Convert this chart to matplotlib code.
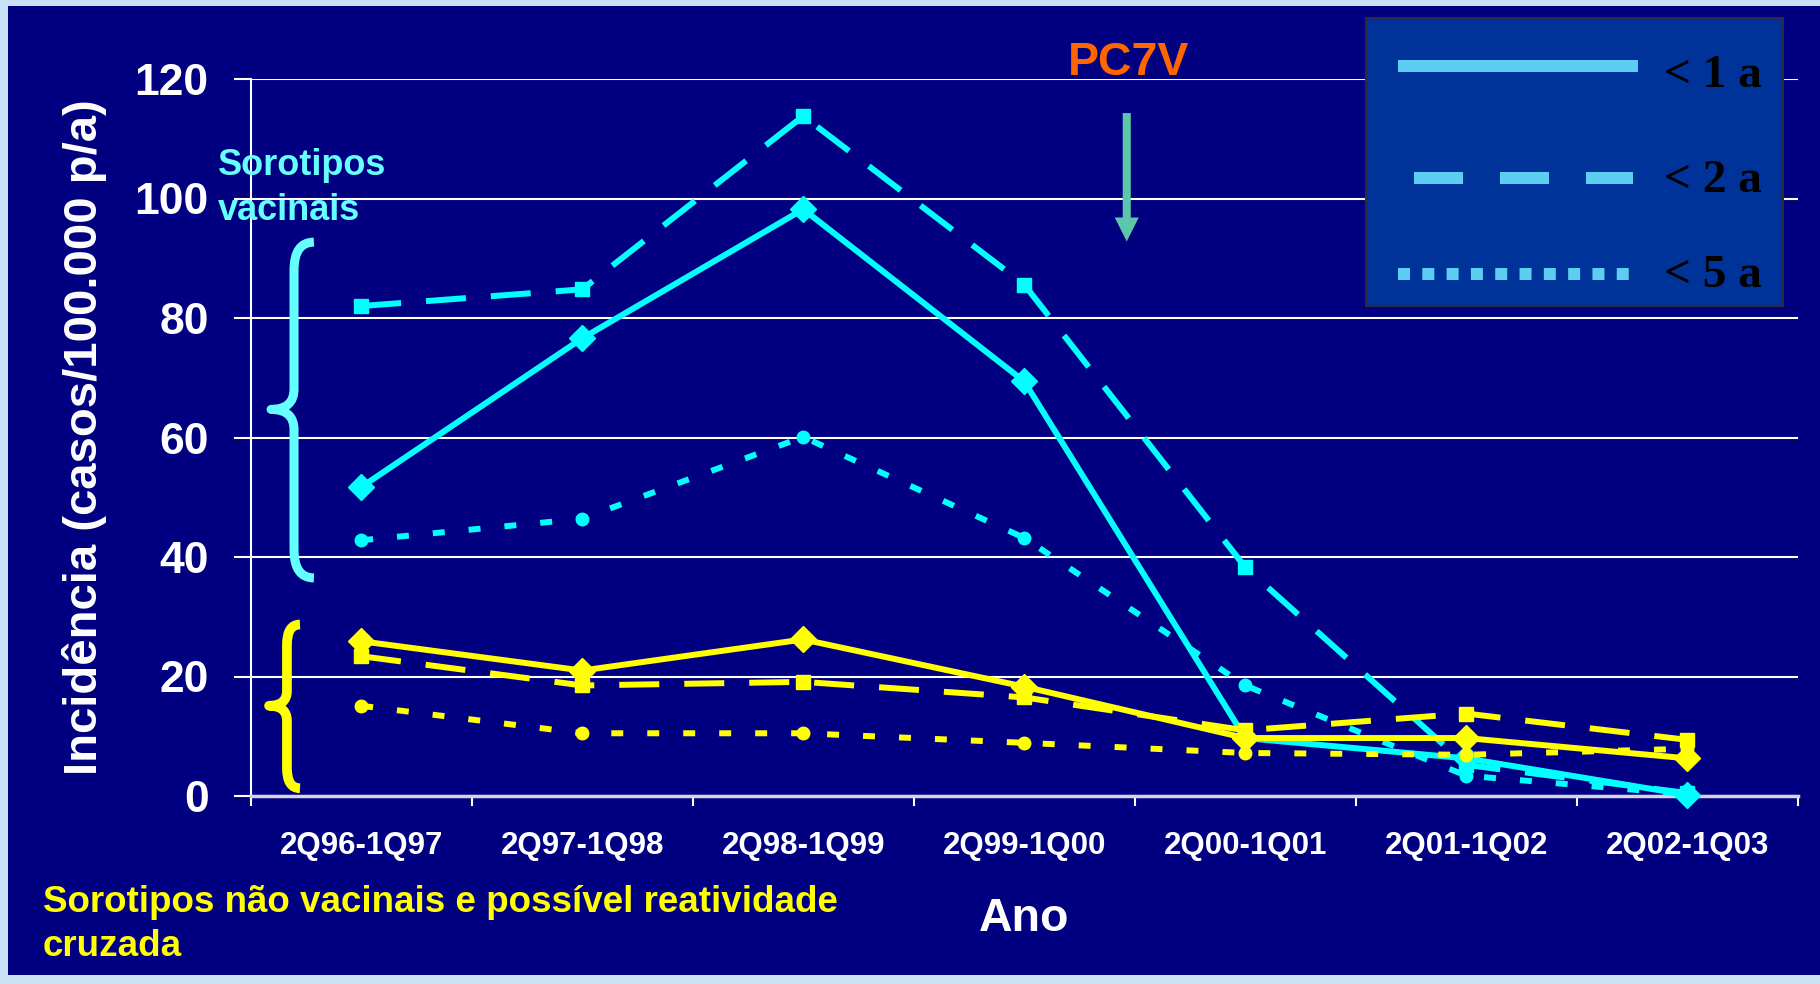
import numpy as np
import matplotlib
matplotlib.use("Agg")
import matplotlib.pyplot as plt
from matplotlib.patches import Rectangle, PathPatch, ArrowStyle
from matplotlib.path import Path

# ---- data -------------------------------------------------------------
categories = ['2Q96-1Q97', '2Q97-1Q98', '2Q98-1Q99', '2Q99-1Q00',
              '2Q00-1Q01', '2Q01-1Q02', '2Q02-1Q03']

# vaccine serotypes (cyan)
vac_lt1 = [51.7, 76.6, 98.2, 69.4, 9.7, 6.3, 0.2]
vac_lt2 = [82.0, 84.8, 113.8, 85.6, 38.3, 5.2, 0.5]
vac_lt5 = [42.8, 46.4, 60.1, 43.2, 18.5, 3.4, 0.3]

# non-vaccine serotypes (yellow)
nvac_lt1 = [25.9, 21.0, 26.2, 18.3, 9.7, 9.7, 6.3]
nvac_lt2 = [23.4, 18.5, 19.1, 16.5, 11.0, 13.8, 9.4]
nvac_lt5 = [15.1, 10.5, 10.5, 8.9, 7.2, 6.9, 7.9]

legend_labels = ['< 1 a', '< 2 a', '< 5 a']
y_ticks = [0, 20, 40, 60, 80, 100, 120]

# ---- style ------------------------------------------------------------
plt.rcParams['font.family'] = ['Liberation Sans', 'DejaVu Sans']
plt.rcParams['font.weight'] = 'bold'
plt.rcParams['axes.labelweight'] = 'bold'
plt.rcParams['lines.scale_dashes'] = False

NAVY = '#000080'
CYAN = '#00FFFF'
YELLOW = '#FFFF00'
LIGHT_CYAN = '#66FFFF'
LEG_LINE = '#5ECDF2'

W, H = 1820, 984
fig = plt.figure(figsize=(W / 100, H / 100), dpi=100)
fig.patch.set_facecolor('#c9e1f5')
fig.add_artist(Rectangle((8 / W, 9 / H), 1 - 8 / W, (H - 6 - 9) / H,
                         transform=fig.transFigure, fc=NAVY, ec='none',
                         zorder=-5))

x0, x1, y_top, y_bot = 250.7, 1797.7, 79, 796
ax = fig.add_axes([x0 / W, 1 - y_bot / H, (x1 - x0) / W, (y_bot - y_top) / H])
ax.set_facecolor('none')
ax.set_xlim(0, len(categories))
ax.set_ylim(0, 120)

xc = np.arange(len(categories)) + 0.5

solid = dict(linestyle='-')
dashed = dict(linestyle=(0, (28.8, 18)))
dotted = dict(linestyle=(0, (8.6, 17.3)))

def series(vals, color, style, marker, ms):
    ax.plot(xc, vals, color=color, lw=4.3, marker=marker, ms=ms,
            mec=color, mfc=color, clip_on=False, zorder=3, **style)

series(vac_lt2, CYAN, dashed, 's', 10)
series(vac_lt5, CYAN, dotted, 'o', 9)
series(vac_lt1, CYAN, solid, 'D', 13.5)
series(nvac_lt2, YELLOW, dashed, 's', 10)
series(nvac_lt5, YELLOW, dotted, 'o', 9)
series(nvac_lt1, YELLOW, solid, 'D', 13.5)

# axes, ticks and grid
ax.set_axisbelow(True)
ax.grid(axis='y', color='white', lw=1.5)
for s in ('top', 'right'):
    ax.spines[s].set_visible(False)
ax.spines['left'].set_color('white')
ax.spines['left'].set_linewidth(1.5)
ax.spines['bottom'].set_color('#d4d4e4')
ax.spines['bottom'].set_linewidth(2.5)

ax.set_yticks(y_ticks)
ax.tick_params(axis='y', direction='out', length=12.2, width=1.5,
               color='white', pad=18, labelsize=32, labelcolor='white')
ax.set_xticks(range(len(categories) + 1))
ax.set_xticklabels([])
ax.set_xticks(xc, minor=True)
ax.set_xticklabels(categories, minor=True)
ax.tick_params(axis='x', which='major', direction='out', length=7,
               width=1.5, color='white')
ax.tick_params(axis='x', which='minor', length=0, pad=25,
               labelsize=22.5, labelcolor='white')

ax.set_ylabel('Incidência (casos/100.000 p/a)', fontsize=34,
              color='white', fontweight='bold', labelpad=20)
ax.set_xlabel('Ano', fontsize=33.5, color='white', fontweight='bold',
              labelpad=26)

# curly braces grouping the two families of curves
def brace(x_tip, x_stem, x_end, y_bot_, y_mid, y_top_, r_end, r_mid,
          color, lw):
    verts = [(x_end, y_top_),
             (x_stem, y_top_), (x_stem, y_top_ - r_end),
             (x_stem, y_mid + r_mid),
             (x_stem, y_mid), (x_tip, y_mid),
             (x_stem, y_mid), (x_stem, y_mid - r_mid),
             (x_stem, y_bot_ + r_end),
             (x_stem, y_bot_), (x_end, y_bot_)]
    codes = [Path.MOVETO,
             Path.CURVE3, Path.CURVE3,
             Path.LINETO,
             Path.CURVE3, Path.CURVE3,
             Path.CURVE3, Path.CURVE3,
             Path.LINETO,
             Path.CURVE3, Path.CURVE3]
    ax.add_patch(PathPatch(Path(verts, codes), fc='none', ec=color, lw=lw,
                           capstyle='butt', joinstyle='round',
                           clip_on=False, zorder=4))

brace(0.092, 0.196, 0.286, 36.5, 64.7, 92.7, 4.7, 3.4, LIGHT_CYAN, 6.5)
brace(0.083, 0.164, 0.223, 1.3, 15.1, 28.7, 3.4, 2.5, YELLOW, 7.0)

# vaccine introduction marker
ax.annotate('', xy=(3.964, 92.8), xytext=(3.964, 114.3),
            arrowprops=dict(arrowstyle=ArrowStyle.Simple(head_length=17.3,
                                                         head_width=17.3,
                                                         tail_width=5.8),
                            mutation_scale=1, fc='#5BC6A9', ec='none',
                            shrinkA=0, shrinkB=0))

# annotations
def ftext(px, py, s, **kw):
    fig.text(px / W, 1 - py / H, s, va='baseline', **kw)

ftext(1128.5, 75, 'PC7V', ha='center', fontsize=33.5, color='#FF6600')
ftext(218, 175, 'Sorotipos', ha='left', fontsize=26, color=LIGHT_CYAN)
ftext(218, 220, 'vacinais', ha='left', fontsize=26, color=LIGHT_CYAN)
ftext(43, 912, 'Sorotipos não vacinais e possível reatividade', ha='left',
      fontsize=26.5, color=YELLOW)
ftext(43, 956, 'cruzada', ha='left', fontsize=26.5, color=YELLOW)

# key box
lx, ly, lw_, lh = 1366, 18, 417, 288
lax = fig.add_axes([lx / W, 1 - (ly + lh) / H, lw_ / W, lh / H])
lax.set_facecolor('#003399')
lax.set_xlim(0, lw_)
lax.set_ylim(lh, 0)
lax.set_xticks([])
lax.set_yticks([])
for sp in lax.spines.values():
    sp.set_color('#2a2a40')
    sp.set_linewidth(1.5)
lax.plot([32, 272], [48, 48], color=LEG_LINE, lw=8.64,
         solid_capstyle='butt')
lax.plot([48, 267], [160, 160], color=LEG_LINE, lw=8.64,
         linestyle=(0, (35.3, 26.6)), dash_capstyle='butt')
lax.plot([32, 263], [256, 256], color=LEG_LINE, lw=8.64,
         linestyle=(0, (8.64, 8.86)), dash_capstyle='butt')
for lbl, yb in zip(legend_labels, [69.3, 173.7, 269.3]):
    lax.text(396, yb, lbl, ha='right', va='baseline', fontsize=34,
             color='black', fontweight='bold',
             family=['Liberation Serif', 'DejaVu Serif'])

fig.savefig('out.png', dpi=100, facecolor=fig.get_facecolor())
